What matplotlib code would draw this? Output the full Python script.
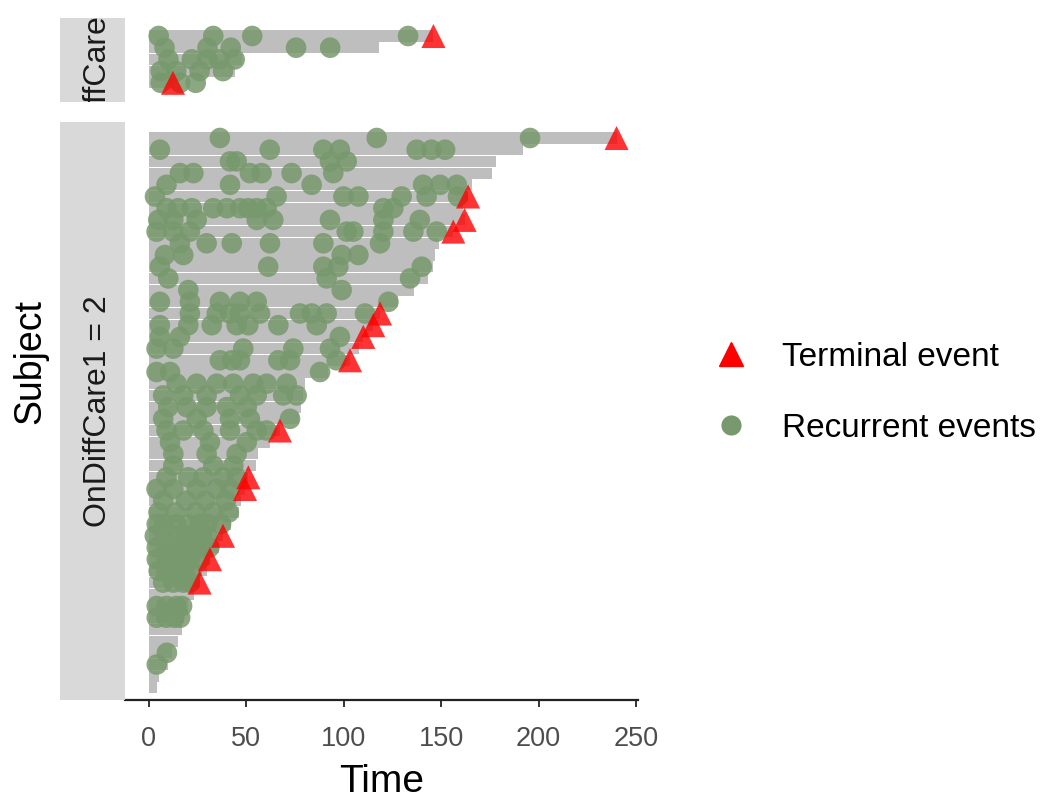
import numpy as np
import matplotlib.pyplot as plt
from matplotlib.lines import Line2D

plt.rcParams['font.family'] = ['Liberation Sans', 'DejaVu Sans']

# ===== data: follow-up end, terminal flag and recurrent event times per subject =====
strip_labels = ['OnDiffCare1 = 1', 'OnDiffCare1 = 2']

top_end = [146, 118, 48, 44, 12.3]
top_terminal = [1, 0, 0, 0, 1]
top_events = [
    [5, 33, 53, 133],
    [8, 30, 42, 75.5, 93],
    [10, 22, 30, 36, 44],
    [6, 14, 26, 38],
    [6, 16, 24],
]

bot_end = [240, 192, 178, 176, 166, 163.8, 161, 162, 156.2, 149,
           147, 146, 143, 136, 128, 118.6, 115.1, 110, 108, 103.2,
           92, 80, 79, 78, 77, 67.2, 62, 56, 55, 51,
           49.3, 47, 46, 42, 38, 36, 31.3, 30, 26, 23,
           20, 18, 17, 15, 12, 10, 5, 4]
bot_terminal = [1, 0, 0, 0, 0, 1, 0, 1, 1, 0,
                0, 0, 0, 0, 0, 1, 1, 1, 0, 1,
                0, 0, 0, 0, 0, 1, 0, 0, 0, 1,
                1, 0, 0, 0, 1, 0, 1, 0, 1, 0,
                0, 0, 0, 0, 0, 0, 0, 0]
bot_events = [
    [36.4, 116.9, 195.6],
    [5.6, 62, 89.5, 98, 137.4, 145, 152],
    [41.6, 45, 92.9, 101.5],
    [15.9, 22.8, 51.8, 57.8, 73.2, 94.6],
    [9, 41.6, 83.5, 140.7, 149.4, 158],
    [3.1, 65.5, 99.8, 107.5, 129.7, 142.5, 158.6],
    [9, 15, 22, 33, 40, 46.7, 51, 55.3, 60.4, 120.3, 125.4],
    [4.8, 12.5, 24.5, 55.3, 63.8, 92.9, 120.3, 139],
    [3.9, 12.5, 21, 101.5, 104.9, 120.3, 135.7, 147.7],
    [15.9, 29.6, 42.5, 62.1, 89.5, 118.6],
    [8.2, 17.6, 98.9, 107.5],
    [5.6, 61.2, 89.5, 97.2, 140],
    [9.9, 91.2, 134],
    [20.2, 98.9],
    [5.6, 21, 36.4, 46.7, 55.3, 122.9],
    [21, 34.8, 41.6, 46.7, 57, 77.5, 83.5, 91.2, 110.9],
    [5.6, 20.2, 32.2, 45, 51, 66.4, 86.1],
    [5.6, 15.9, 98],
    [3.9, 12.5, 48.4, 74.1, 92.9],
    [36.4, 42.5, 46.7, 66.4, 72.4, 96.3],
    [3.9, 10.8, 87.8],
    [14.2, 24.5, 34.8, 43.3, 53.5, 60.4, 70.7],
    [7.3, 17.6, 29.6, 46.7, 55.3, 68.9, 75.8],
    [9.9, 19.3, 29.6, 40, 50.2],
    [7.3, 24.5, 41.6, 51.8, 72.4],
    [9, 17.6, 27.9, 41.6, 55.3, 60.4],
    [10.8, 31.3, 50.2],
    [12.5, 29.6, 45],
    [12.5, 33, 43.3],
    [9, 20.2, 27.9, 38.2, 45],
    [3.9, 12.5, 24.5, 34.8, 41.6],
    [7.3, 19, 29, 39.5],
    [4.9, 13.6, 24, 33, 41],
    [4, 8, 14, 20, 26, 30, 37],
    [3, 8, 14, 19, 22.6, 27, 30],
    [4, 9, 14, 18, 22.6, 27, 31],
    [4, 9, 14, 18, 21, 26],
    [5, 9, 13, 18, 22],
    [7.3, 12.5, 17.6, 21],
    [],
    [4, 9, 14, 17],
    [4, 9, 13, 16],
    [],
    [],
    [9.2],
    [4],
    [],
    [],
]

x_ticks = [0, 50, 100, 150, 200, 250]

bar_col = '#BEBEBE'
pt_col = '#77996D'
tri_col = '#FF0000'

fig = plt.figure(figsize=(10.42, 8.01), dpi=100)
W, H = 1042, 801

def px_axes(x0, y0, x1, y1):
    return fig.add_axes([x0 / W, 1 - y1 / H, (x1 - x0) / W, (y1 - y0) / H])

ax_top = px_axes(125, 18, 638, 102)
ax_bot = px_axes(125, 122, 638, 700)
st_top = px_axes(60, 18, 125, 102)
st_bot = px_axes(60, 122, 125, 700)

row_px = 11.7


def draw_panel(ax, ends, term, events, first_px, top_px, bot_px):
    rows = np.arange(len(ends))
    ax.barh(rows, ends, height=0.95, color=bar_col, zorder=1)
    xs, ys = [], []
    for i, ev in enumerate(events):
        xs += ev
        ys += [i] * len(ev)
    ax.scatter(xs, ys, s=220, color=pt_col, alpha=0.85, edgecolors='none', zorder=2)
    t = np.array(term) == 1
    ax.scatter(np.array(ends)[t], rows[t], s=300, marker='^', color=tri_col,
               alpha=0.8, edgecolors='none', zorder=3)
    ax.set_ylim((bot_px - first_px) / row_px, (top_px - first_px) / row_px)
    ax.set_xlim(-12.3, 251)
    ax.set_yticks([])
    for s in ['top', 'right', 'left']:
        ax.spines[s].set_visible(False)


draw_panel(ax_top, top_end, top_terminal, top_events, 36, 18, 102)
draw_panel(ax_bot, bot_end, bot_terminal, bot_events, 138, 122, 700)

ax_top.spines['bottom'].set_visible(False)
ax_top.set_xticks([])

ax_bot.spines['bottom'].set_linewidth(1.6)
ax_bot.spines['bottom'].set_color('#222222')
ax_bot.set_xticks(x_ticks)
ax_bot.tick_params(axis='x', length=5, width=1.4, color='#333333',
                   labelsize=19.5, labelcolor='#4D4D4D', pad=14)
ax_bot.set_xlabel('Time', fontsize=28, labelpad=8)

for st, lab in zip([st_top, st_bot], strip_labels):
    st.set_facecolor('#D9D9D9')
    st.set_xticks([])
    st.set_yticks([])
    for s in st.spines.values():
        s.set_visible(False)
    txt = st.text(0.58, 0.5, lab, rotation=90, ha='center', va='center',
                  fontsize=23, color='#1A1A1A', transform=st.transAxes)
    txt.set_clip_on(True)

fig.text(30 / W, 1 - 362 / H, 'Subject', rotation=90, ha='center', va='center',
         fontsize=27)

handles = [
    Line2D([], [], marker='^', linestyle='none', color=tri_col, markersize=17),
    Line2D([], [], marker='o', linestyle='none', color=pt_col, markersize=14.5,
           markeredgewidth=0),
]
fig.legend(handles, ['Terminal event', 'Recurrent events'], loc='center left',
           bbox_to_anchor=(714 / W, 1 - 393 / H), frameon=False, fontsize=24,
           handlelength=1.0, handletextpad=1.05, labelspacing=1.2,
           borderpad=0, borderaxespad=0)

fig.savefig('out.png', dpi=100)
